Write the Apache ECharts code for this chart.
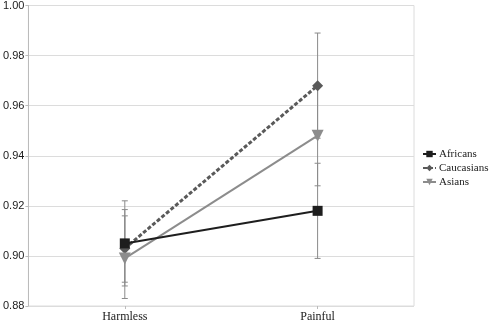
<!DOCTYPE html>
<html><head><meta charset="utf-8">
<script src="https://cdn.jsdelivr.net/npm/echarts@6/dist/echarts.min.js"></script>
<style>html,body{margin:0;padding:0;background:#fff}#c{width:491px;height:323px}</style>
</head><body><div id="c"></div>
<script>
const categories = ['Harmless', 'Painful'];
const seriesNames = ['Africans', 'Caucasians', 'Asians'];
const africans = [0.905, 0.918];
const caucasians = [0.903, 0.968];
const asians = [0.899, 0.948];
const africansErr = [[0.888, 0.922], [0.899, 0.937]];
const caucasiansErr = [[0.8895, 0.9185], [0.947, 0.989]];
const asiansErr = [[0.883, 0.916], [0.928, 0.968]];
const yTicks = [0.88, 0.90, 0.92, 0.94, 0.96, 0.98, 1.00];

const serif = 'Liberation Serif';
const sans = 'Liberation Sans';
const chart = echarts.init(document.getElementById('c'));

function errSeries(name, err) {
  return {
    type: 'custom', name: name + ' err', z: 1, silent: true,
    data: err.map((e, i) => [i, e[0], e[1]]),
    renderItem: function (params, api) {
      const x = api.coord([api.value(0), api.value(1)])[0];
      const lo = api.coord([api.value(0), api.value(1)])[1];
      const hi = api.coord([api.value(0), api.value(2)])[1];
      const w = 3;
      const st = { stroke: '#8a8a8a', lineWidth: 1 };
      return { type: 'group', children: [
        { type: 'line', shape: { x1: x, y1: lo, x2: x, y2: hi }, style: st },
        { type: 'line', shape: { x1: x - w, y1: lo, x2: x + w, y2: lo }, style: st },
        { type: 'line', shape: { x1: x - w, y1: hi, x2: x + w, y2: hi }, style: st }
      ]};
    }
  };
}

chart.setOption({
  animation: false,
  grid: { left: 25, right: 77, top: 4, bottom: 14, show: true, borderColor: '#dcdcdc', borderWidth: 1 },
  legend: {
    orient: 'vertical', left: 417, top: 143, itemGap: 2,
    itemWidth: 13, itemHeight: 8,
    data: seriesNames,
    textStyle: { fontFamily: serif, fontSize: 11, color: '#1a1a1a', lineHeight: 12, padding: [0, 0, 0, -2] }
  },
  xAxis: {
    type: 'category', data: categories,
    axisLine: { show: false },
    axisTick: { show: true, alignWithLabel: true, length: 3, lineStyle: { color: '#bbb' } },
    axisLabel: { fontFamily: serif, fontSize: 12, color: '#1a1a1a', margin: 5 }
  },
  yAxis: {
    type: 'value', min: 0.88, max: 1.0, interval: 0.02,
    axisLine: { show: true, lineStyle: { color: '#bbb' } },
    axisTick: { show: true, length: 3, lineStyle: { color: '#bbb' } },
    splitLine: { lineStyle: { color: '#dcdcdc' } },
    axisLabel: { fontFamily: sans, fontSize: 11, color: '#1a1a1a', margin: 4,
      formatter: v => v.toFixed(2) }
  },
  series: [
    errSeries('Africans', africansErr),
    errSeries('Caucasians', caucasiansErr),
    errSeries('Asians', asiansErr),
    { name: 'Africans', type: 'line', data: africans, z: 4,
      symbol: 'rect', symbolSize: 10,
      lineStyle: { color: '#1e1e1e', width: 2 }, itemStyle: { color: '#1e1e1e' } },
    { name: 'Caucasians', type: 'line', data: caucasians, z: 3,
      symbol: 'diamond', symbolSize: 11,
      lineStyle: { color: '#5a5a5a', width: 3, type: [4, 2] }, itemStyle: { color: '#5a5a5a' } },
    { name: 'Asians', type: 'line', data: asians, z: 3,
      symbol: 'triangle', symbolRotate: 180, symbolSize: 12,
      lineStyle: { color: '#8c8c8c', width: 2 }, itemStyle: { color: '#8c8c8c' } }
  ]
});
</script></body></html>
